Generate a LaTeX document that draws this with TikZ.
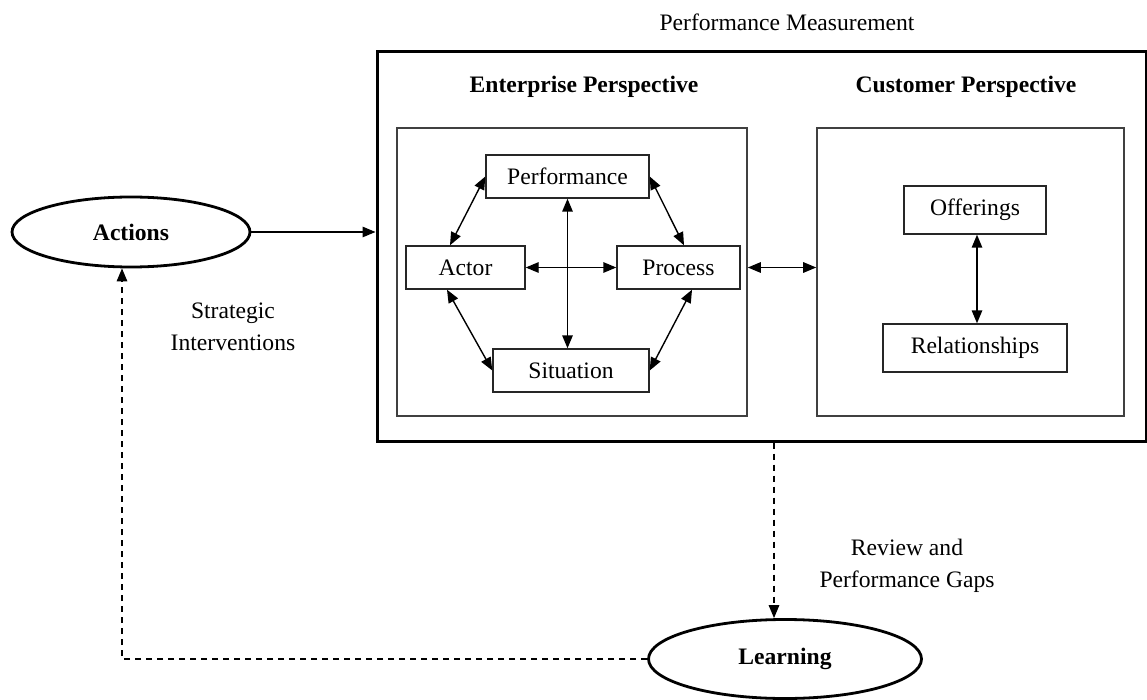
\documentclass[tikz,border=0pt]{standalone}
\usepackage{fontspec}
\setmainfont{Liberation Serif}
\usetikzlibrary{arrows.meta,shapes.geometric}
\begin{document}
\begin{tikzpicture}[x=1pt,y=-1pt,
  every node/.style={font=\fontsize{23.6}{32}\selectfont},
  box/.style={draw=black!85,line width=1.4pt,inner sep=0pt},
  panel/.style={draw=black!75,line width=1.6pt,inner sep=0pt},
  oval/.style={draw,ellipse,line width=2.8pt,inner sep=0pt,font=\fontsize{23.6}{32}\selectfont\bfseries},
  label/.style={align=center,inner sep=0pt},
  tip/.tip={Triangle[length=13pt,width=10.5pt]},
  arr/.style={line width=1.4pt,-tip},
  darr/.style={line width=1.4pt,tip-tip},
  dash arr/.style={line width=1.5pt,dash pattern=on 6pt off 5pt,-tip}
]
\useasboundingbox (0,0) rectangle (1147,700);
\fill[white] (0,0) rectangle (1147,700);

% outer box and panels
\node[draw,line width=3pt,minimum width=769,minimum height=389,inner sep=0pt] (outer) at (761.5,246.5) {};
\node[panel,minimum width=350,minimum height=288] (innerL) at (572,272) {};
\node[panel,minimum width=307,minimum height=288] (innerR) at (970.5,272) {};

% titles
\node[label] (pm) at (787,22) {Performance Measurement};
\node[label,font=\fontsize{23.6}{32}\selectfont\bfseries] (ep) at (584,87) {Enterprise Perspective};
\node[label,font=\fontsize{23.6}{32}\selectfont\bfseries] (cp) at (966,87) {Customer Perspective};

% enterprise boxes
\node[box,minimum width=163,minimum height=43] (perf) at (567.5,176.5) {Performance};
\node[box,minimum width=119,minimum height=43] (actor) at (465.5,267.5) {Actor};
\node[box,minimum width=123,minimum height=43] (proc) at (678.5,267.5) {Process};
\node[box,minimum width=156,minimum height=43] (sit) at (571,370.5) {Situation};

% customer boxes
\node[box,minimum width=142,minimum height=48] (off) at (975,210) {Offerings};
\node[box,minimum width=184,minimum height=48] (rel) at (975,348) {Relationships};

% ovals
\node[oval,minimum width=238,minimum height=70] (actions) at (131,232) {Actions};
\node[oval,minimum width=273,minimum height=79] (learn) at (785,659) {Learning};

% labels
\node[label] (si) at (233,327) {Strategic\\Interventions};
\node[label] (rg) at (907,566) {Review and\\Performance Gaps};

\coordinate (corner) at (122,660);

% enterprise arrows
\draw[darr] (perf.west) -- ([xshift=-15.5]actor.north);
\draw[darr] (perf.east) -- ([xshift=5.5]proc.north);
\draw[darr] (perf.south) -- (perf.south |- sit.north);
\draw[darr] (actor.east) -- (proc.west);
\draw[darr] ([xshift=-18.5]actor.south) -- (sit.west);
\draw[darr] ([xshift=13.5]proc.south) -- (sit.east);

% between perspectives
\draw[darr] (proc.east -| innerL.east) -- (proc.east -| innerR.west);
\draw[darr] ([xshift=2]off.south) -- ([xshift=2]rel.north);

% actions to box
\draw[arr] (actions.east) -- (actions.east -| outer.west);

% feedback loop
\draw[dash arr] ([xshift=12.5]outer.south) -- ([xshift=-11]learn.north);
\draw[dash arr] (learn.west) -- (learn.west -| corner) -- (actions.south -| corner);
\end{tikzpicture}
\end{document}
